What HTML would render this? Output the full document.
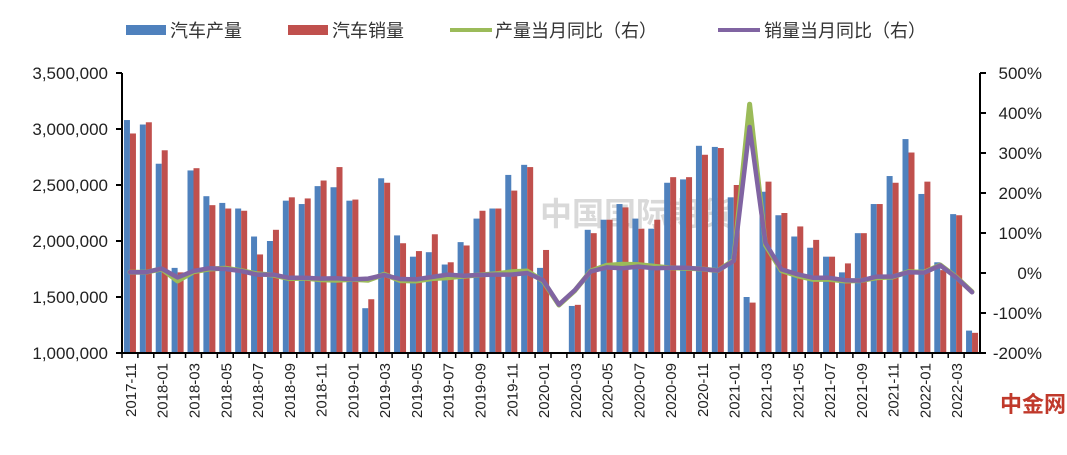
<!DOCTYPE html>
<html><head><meta charset="utf-8"><style>
body{margin:0;background:#fff;}
svg text{font-family:"Liberation Sans","Noto Sans CJK SC",sans-serif;}
</style></head><body>
<svg id="c" width="1067" height="450" xmlns="http://www.w3.org/2000/svg">
<g font-size="18" fill="#333">
<g><rect x="126" y="25" width="40" height="10" fill="#4F81BD"/><text x="170" y="37">汽车产量</text></g>
<g><rect x="288" y="25" width="40" height="10" fill="#C0504D"/><text x="332" y="37">汽车销量</text></g>
<g><line x1="450" y1="30" x2="492" y2="30" stroke="#9BBB59" stroke-width="4"/><text x="495" y="37">产量当月同比（右）</text></g>
<g><line x1="718" y1="30" x2="760" y2="30" stroke="#8064A2" stroke-width="4"/><text x="764" y="37">销量当月同比（右）</text></g>
</g>
<text x="540" y="225" font-size="32" fill="#d9d9d9" font-weight="bold">中国国际期货</text>
<g id="plot"></g>
<text x="1000" y="412" font-size="22" fill="#c0392b" font-weight="bold">中金网</text>
</svg>
<script>
const months=["2017-11","2017-12","2018-01","2018-02","2018-03","2018-04","2018-05","2018-06","2018-07","2018-08","2018-09","2018-10","2018-11","2018-12","2019-01","2019-02","2019-03","2019-04","2019-05","2019-06","2019-07","2019-08","2019-09","2019-10","2019-11","2019-12","2020-01","2020-02","2020-03","2020-04","2020-05","2020-06","2020-07","2020-08","2020-09","2020-10","2020-11","2020-12","2021-01","2021-02","2021-03","2021-04","2021-05","2021-06","2021-07","2021-08","2021-09","2021-10","2021-11","2021-12","2022-01","2022-02","2022-03","2022-04"];
const production=[3.08,3.04,2.69,1.76,2.63,2.40,2.34,2.29,2.04,2.00,2.36,2.33,2.49,2.48,2.36,1.40,2.56,2.05,1.86,1.90,1.79,1.99,2.20,2.29,2.59,2.68,1.76,0.29,1.42,2.10,2.19,2.33,2.20,2.11,2.52,2.55,2.85,2.84,2.39,1.50,2.44,2.23,2.04,1.94,1.86,1.72,2.07,2.33,2.58,2.91,2.42,1.81,2.24,1.20];
const sales=[2.96,3.06,2.81,1.72,2.65,2.32,2.29,2.27,1.88,2.10,2.39,2.38,2.54,2.66,2.37,1.48,2.52,1.98,1.91,2.06,1.81,1.96,2.27,2.29,2.45,2.66,1.92,0.31,1.43,2.07,2.19,2.30,2.11,2.19,2.57,2.57,2.77,2.83,2.50,1.45,2.53,2.25,2.13,2.01,1.86,1.80,2.07,2.33,2.52,2.79,2.53,1.74,2.23,1.18];
const prodYoy=[2,2,10,-20,3,10,12,6,-2,-5,-14,-13,-17,-18,-16,-18,-3,-19,-20,-14,-12,-8,-5,-2,3,5,-20,-80,-44,5,19,22,21,17,13,12,10,6,32,422,70,6,-7,-16,-16,-20,-19,-12,-10,3,2,20,-10,-47];
const salesYoy=[2,2,11,-11,5,12,10,5,-4,-4,-12,-12,-14,-13,-16,-14,-5,-15,-16,-10,-4,-7,-5,-4,-4,0,-18,-79,-43,4,14,12,16,12,13,13,10,6,30,365,75,9,-3,-12,-12,-18,-19,-9,-9,2,1,19,-11,-48];
const leftTicks=[1000000,1500000,2000000,2500000,3000000,3500000];
const rightTicks=[-200,-100,0,100,200,300,400,500];

const svg=document.getElementById('plot');const NS="http://www.w3.org/2000/svg";
const X0=122,X1=980,YT=73,YB=353;
const step=(X1-X0)/months.length;
const yL=v=>YB-(v*1e6-1e6)/2.5e6*(YB-YT);
const yLt=v=>YB-(v-1e6)/2.5e6*(YB-YT);
const yR=v=>YB-(v+200)/700*(YB-YT);
const xc=i=>X0+step*(i+0.5);
function mk(t,a,p){const e=document.createElementNS(NS,t);for(const k in a)e.setAttribute(k,a[k]);(p||svg).appendChild(e);return e;}
const fmt=n=>n.toLocaleString('en-US');
leftTicks.forEach(v=>{const y=yLt(v);mk('line',{x1:X0-6,y1:y,x2:X0,y2:y,stroke:'#000','stroke-width':2});
const t=mk('text',{x:X0-14,y:y+6,'text-anchor':'end','font-size':17,fill:'#222'});t.textContent=fmt(v);

});
rightTicks.forEach(v=>{const y=yR(v);mk('line',{x1:X1,y1:y,x2:X1+6,y2:y,stroke:'#000','stroke-width':2});
const t=mk('text',{x:X1+62,y:y+6,'text-anchor':'end','font-size':17,fill:'#222'});t.textContent=v+'%';

});
const cp=mk('clipPath',{id:'cp'});mk('rect',{x:X0,y:YT-20,width:X1-X0,height:YB-YT+20},cp);
const g=mk('g',{'clip-path':'url(#cp)'});
months.forEach((m,i)=>{
 const x=xc(i);
 const b1=mk('rect',{x:x-6,y:Math.min(yL(production[i]),YB),width:6,height:Math.max(0,YB-yL(production[i])),fill:'#4F81BD'},g);
 
 
 const b2=mk('rect',{x:x,y:Math.min(yL(sales[i]),YB),width:6,height:Math.max(0,YB-yL(sales[i])),fill:'#C0504D'},g);
 
 
 mk('line',{x1:X0+step*i,y1:YB,x2:X0+step*i,y2:YB+5,stroke:'#000','stroke-width':1.5});
 if(i%2===0){const t=mk('text',{transform:`translate(${x+6},${YB+10}) rotate(-90)`,'text-anchor':'end','font-size':15,fill:'#222'});t.textContent=m;
 
 }
});
function line(arr,col,w,name){const p=mk('polyline',{points:arr.map((v,i)=>xc(i)+','+yR(v)).join(' '),fill:'none',stroke:col,'stroke-width':w,'stroke-linejoin':'round','stroke-linecap':'round'});

}
line(prodYoy,'#9BBB59',5,'line-production-yoy');
line(salesYoy,'#8064A2',4.5,'line-sales-yoy');
mk('line',{x1:X0,y1:YT,x2:X0,y2:YB,stroke:'#000','stroke-width':2});
mk('line',{x1:X1,y1:YT,x2:X1,y2:YB,stroke:'#000','stroke-width':2});
mk('line',{x1:X0,y1:YB,x2:X1,y2:YB,stroke:'#000','stroke-width':2});
</script>
</body></html>
